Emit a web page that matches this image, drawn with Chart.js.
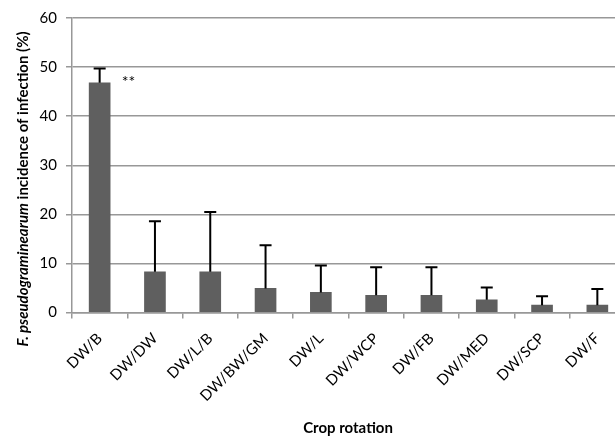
<!DOCTYPE html>
<html>
<head>
<meta charset="utf-8">
<script src="https://cdn.jsdelivr.net/npm/chart.js@4"></script>
<style>
  html, body { margin: 0; padding: 0; background: #fff; overflow: hidden; }
  #wrap { width: 636px; height: 436px; }
</style>
</head>
<body>
<div id="wrap"><canvas id="chart"></canvas></div>
<script>
// values
const rotations = ["DW/B", "DW/DW", "DW/L/B", "DW/BW/GM", "DW/L", "DW/WCP", "DW/FB", "DW/MED", "DW/SCP", "DW/F"];
const incidence = [46.8, 8.3, 8.3, 4.9, 4.1, 3.5, 3.5, 2.6, 1.5, 1.5];
const errorPlus = [2.9, 10.3, 12.2, 8.8, 5.5, 5.7, 5.7, 2.5, 1.8, 3.3];
const yTicks = [0, 10, 20, 30, 40, 50, 60];

const fontName = "Lato, 'Liberation Sans', sans-serif";
const greyLine = '#989898';

// upward error bars with a cap
const errorBars = {
    id: 'errorBars',
    afterDatasetsDraw(chart) {
        const ctx = chart.ctx;
        const meta = chart.getDatasetMeta(0);
        const y = chart.scales.y;
        ctx.save();
        ctx.strokeStyle = '#000';
        ctx.lineWidth = 2;
        meta.data.forEach((bar, i) => {
            let top = y.getPixelForValue(incidence[i] + errorPlus[i]);
            ctx.beginPath();
            ctx.moveTo(bar.x, bar.y);
            ctx.lineTo(bar.x, top);
            ctx.moveTo(bar.x - 6, top);
            ctx.lineTo(bar.x + 6, top);
            ctx.stroke();
        });
        // significance mark next to first bar
        let first = meta.data[0];
        ctx.fillStyle = '#000';
        ctx.font = "16px " + fontName;
        ctx.textAlign = 'left';
        ctx.textBaseline = 'middle';
        ctx.fillText('**', first.x + 22, y.getPixelForValue(incidence[0]) - 1);
        ctx.restore();
    }
};

// axis titles (mixed italic / bold on the y title)
const axisTitles = {
    id: 'axisTitles',
    afterDraw(chart) {
        const ctx = chart.ctx;
        const area = chart.chartArea;
        ctx.save();
        ctx.fillStyle = '#000';
        ctx.textBaseline = 'middle';

        ctx.font = "bold 15px " + fontName;
        ctx.textAlign = 'center';
        ctx.fillText('Crop rotation', 348, 428);

        let part1 = 'F. pseudograminearum';
        let part2 = ' incidence of infection (%)';
        let size = 15;
        ctx.font = "italic bold " + size + "px " + fontName;
        let w1 = ctx.measureText(part1).width;
        ctx.font = "bold " + size + "px " + fontName;
        let w2 = ctx.measureText(part2).width;
        ctx.translate(23, 189);
        ctx.rotate(-Math.PI / 2);
        ctx.textAlign = 'left';
        let start = -(w1 + w2) / 2;
        ctx.font = "italic bold " + size + "px " + fontName;
        ctx.fillText(part1, start, 0);
        ctx.font = "bold " + size + "px " + fontName;
        ctx.fillText(part2, start + w1, 0);
        ctx.restore();
    }
};

new Chart(document.getElementById('chart'), {
    type: 'bar',
    data: {
        labels: rotations,
        datasets: [{
            data: incidence,
            backgroundColor: '#5f5f5f',
            barThickness: 21
        }]
    },
    plugins: [errorBars, axisTitles],
    options: {
        responsive: true,
        maintainAspectRatio: false,
        animation: false,
        layout: { padding: { top: 16, right: 11, left: 0, bottom: 0 } },
        plugins: {
            legend: { display: false },
            tooltip: { enabled: false }
        },
        scales: {
            x: {
                offset: true,
                grid: {
                    offset: true,
                    drawOnChartArea: false,
                    drawTicks: true,
                    tickLength: 6,
                    color: greyLine,
                    lineWidth: 1.5
                },
                border: { display: true, color: greyLine, width: 1.5 },
                ticks: {
                    color: '#000',
                    minRotation: 45,
                    maxRotation: 45,
                    padding: 11,
                    font: { family: fontName, size: 15 }
                },
                afterFit: scale => { scale.height = 123.5; }
            },
            y: {
                min: 0,
                max: 60,
                afterBuildTicks: scale => { scale.ticks = yTicks.map(v => ({ value: v })); },
                grid: {
                    color: greyLine,
                    lineWidth: 1.5,
                    tickLength: 6
                },
                border: { display: true, color: greyLine, width: 1.5 },
                ticks: {
                    color: '#000',
                    padding: 9,
                    font: { family: fontName, size: 15 }
                },
                afterFit: scale => { scale.width = 72; }
            }
        }
    }
});
</script>
</body>
</html>
